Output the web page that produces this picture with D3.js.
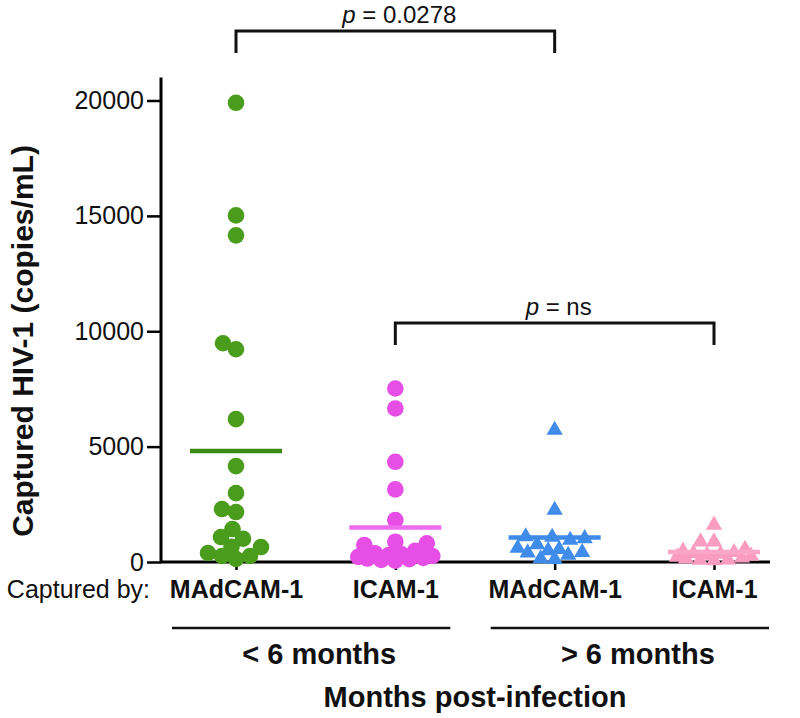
<!DOCTYPE html>
<html>
<head>
<meta charset="utf-8">
<script src="https://cdn.jsdelivr.net/npm/d3@7"></script>
<style>
  body { margin: 0; background: #fff; }
  svg { font-family: "Liberation Sans", Arial, sans-serif; }
</style>
</head>
<body>
<div id="chart"></div>
<script>
// data
var categories = ["MAdCAM-1 <6", "ICAM-1 <6", "MAdCAM-1 >6", "ICAM-1 >6"];
var categoryLabels = ["MAdCAM-1", "ICAM-1", "MAdCAM-1", "ICAM-1"];
var groupLabels = ["< 6 months", "> 6 months"];
var yTicks = [0, 5000, 10000, 15000, 20000];

var madcamEarly = [19900, 15020, 14156, 9480, 9220, 6190, 4156, 2987, 2294, 2165, 1429, 1082, 1010, 660, 649, 390, 260, 260, 130];
var icamEarly = [7519, 6654, 4342, 3147, 1818, 879, 810, 736, 489, 380, 330, 300, 260, 220, 180, 150, 120, 90, 60];
var madcamLate = [5714, 2251, 1100, 1080, 1020, 950, 760, 600, 550, 500, 400, 420, 300, 120, 150];
var icamLate = [1602, 879, 879, 560, 480, 420, 380, 340, 300, 260, 220, 180, 140, 100, 60, 80];

var pLabels = ["0.0278", "ns"];

var series = [madcamEarly, icamEarly, madcamLate, icamLate];
var styles = [
	{ fill: "#4a9c1c", line: "#3b8a12", shape: "circle" },
	{ fill: "#e64ee6", line: "#ee6aee", shape: "circle" },
	{ fill: "#408ceb", line: "#3d8ae8", shape: "triangle" },
	{ fill: "#f99cc0", line: "#f9a6c8", shape: "triangle" }
];

var width = 800, height = 718;

var svg = d3.select("#chart").append("svg")
	.attr("width", width)
	.attr("height", height);

var x = d3.scalePoint().domain(categories).range([236, 714]);
var y = d3.scaleLinear().domain([0, 20000]).range([562, 100.5]);

var axisX0 = 161, axisX1 = 770;

// y axis
var yAxis = svg.append("g")
	.attr("transform", "translate(" + axisX0 + ",0)")
	.call(d3.axisLeft(y).tickValues(yTicks).tickSize(14).tickSizeOuter(0).tickPadding(3).tickFormat(d3.format("d")));
yAxis.select(".domain").remove();
yAxis.selectAll(".tick line").attr("stroke", "#000").attr("stroke-width", 2.5);
yAxis.selectAll(".tick text").attr("font-size", 25).attr("fill", "#111")
	.attr("font-family", "Liberation Sans, Arial, sans-serif");

svg.append("line")
	.attr("x1", axisX0).attr("x2", axisX0)
	.attr("y1", y(0) + 1).attr("y2", y(21000))
	.attr("stroke", "#000").attr("stroke-width", 3);

// x axis
var xAxis = svg.append("g")
	.attr("transform", "translate(0," + y(0) + ")")
	.call(d3.axisBottom(x).tickSize(8).tickSizeOuter(0).tickPadding(10)
		.tickFormat(function(d, i) { return categoryLabels[i]; }));
xAxis.select(".domain").remove();
xAxis.selectAll(".tick line").attr("stroke", "#000").attr("stroke-width", 2.5);
xAxis.selectAll(".tick text").attr("font-size", 25).attr("font-weight", "bold").attr("fill", "#111")
	.attr("font-family", "Liberation Sans, Arial, sans-serif");

svg.append("line")
	.attr("x1", axisX0 - 1).attr("x2", axisX1)
	.attr("y1", y(0)).attr("y2", y(0))
	.attr("stroke", "#000").attr("stroke-width", 3);

svg.append("text")
	.attr("x", 150).attr("y", 598)
	.attr("text-anchor", "end")
	.attr("font-size", 25).attr("fill", "#111")
	.text("Captured by:");

// y title
svg.append("text")
	.attr("transform", "translate(33,341) rotate(-90)")
	.attr("text-anchor", "middle")
	.attr("font-size", 30).attr("font-weight", "bold").attr("fill", "#111")
	.text("Captured HIV-1 (copies/mL)");

// simple beeswarm: bottom-up, nearest free slot to the centre, overlap when crowded
function swarm(vals, d, spread) {
	var pts = vals.slice().sort(d3.ascending).map(function(v) {
		return { v: v, py: y(v), dx: 0 };
	});
	var placed = [];
	pts.forEach(function(p) {
		var best = 0, bestScore = -1, fit = null;
		for (var c = -spread; c <= spread; c += 0.5) {
			var m = Infinity;
			placed.forEach(function(q) {
				var dd = Math.hypot(c - q.dx, p.py - q.py);
				if (dd < m) m = dd;
			});
			if (m >= d && (fit === null || Math.abs(c) < Math.abs(fit))) fit = c;
			if (m > bestScore) { bestScore = m; best = c; }
		}
		p.dx = fit !== null ? fit : best;
		placed.push(p);
	});
	return pts;
}

var tri = d3.symbol().type(d3.symbolTriangle).size(115);

series.forEach(function(vals, i) {
	var cx = x(categories[i]);
	var st = styles[i];
	var pts = swarm(vals, 14, 37);
	var g = svg.append("g").attr("class", "group-" + i);

	if (st.shape === "circle") {
		g.selectAll("circle").data(pts).enter().append("circle")
			.attr("cx", function(d) { return cx + d.dx; })
			.attr("cy", function(d) { return d.py; })
			.attr("r", 8.3)
			.attr("fill", st.fill);
	} else {
		g.selectAll("path").data(pts).enter().append("path")
			.attr("d", tri)
			.attr("transform", function(d) { return "translate(" + (cx + d.dx) + "," + d.py + ")"; })
			.attr("fill", st.fill);
	}

	var m = d3.mean(vals);
	g.append("line")
		.attr("x1", cx - 46).attr("x2", cx + 46)
		.attr("y1", y(m)).attr("y2", y(m))
		.attr("stroke", st.line).attr("stroke-width", 4.5);
});

// significance brackets
function bracket(a, b, top, label) {
	var x1 = x(categories[a]), x2 = x(categories[b]);
	svg.append("path")
		.attr("d", "M" + x1 + "," + (top + 22) + "V" + top + "H" + x2 + "V" + (top + 22))
		.attr("fill", "none").attr("stroke", "#111").attr("stroke-width", 3);
	var t = svg.append("text")
		.attr("x", (x1 + x2) / 2 + 4).attr("y", top - 8)
		.attr("text-anchor", "middle")
		.attr("font-size", 24).attr("fill", "#111");
	t.append("tspan").attr("font-style", "italic").text("p");
	t.append("tspan").text(" = " + label);
}
bracket(0, 2, 31, pLabels[0]);
bracket(1, 3, 323, pLabels[1]);

// group underlines and labels
[[0, 1], [2, 3]].forEach(function(pair, i) {
	var x1 = x(categories[pair[0]]) - 64, x2 = x(categories[pair[1]]) + 55;
	svg.append("line")
		.attr("x1", x1).attr("x2", x2)
		.attr("y1", 628).attr("y2", 628)
		.attr("stroke", "#111").attr("stroke-width", 2.5);
	svg.append("text")
		.attr("x", (x1 + x2) / 2 + 8).attr("y", 664)
		.attr("text-anchor", "middle")
		.attr("font-size", 29).attr("font-weight", "bold").attr("fill", "#111")
		.text(groupLabels[i]);
});

svg.append("text")
	.attr("x", 475).attr("y", 707)
	.attr("text-anchor", "middle")
	.attr("font-size", 29).attr("font-weight", "bold").attr("fill", "#111")
	.text("Months post-infection");
</script>
</body>
</html>
